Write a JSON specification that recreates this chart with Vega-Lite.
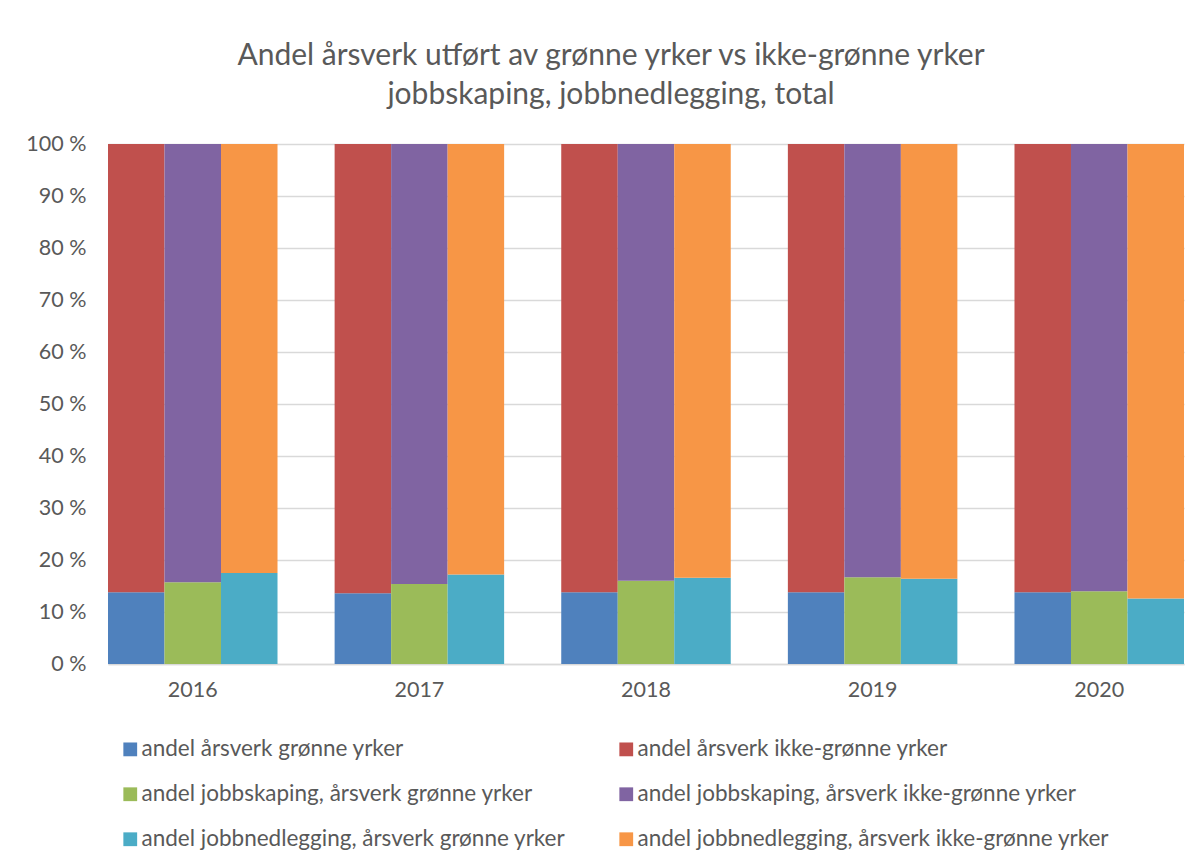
{
  "$schema": "https://vega.github.io/schema/vega-lite/v6.json",
  "width": 1076,
  "height": 520,
  "autosize": "none",
  "padding": {"left": 108, "top": 144, "right": 16, "bottom": 202},
  "background": "white",
  "title": {
    "text": ["Andel årsverk utført av grønne yrker vs  ikke-grønne yrker", "jobbskaping, jobbnedlegging, total"],
    "font": "Lato",
    "fontSize": 30,
    "fontWeight": "normal",
    "color": "#595959",
    "anchor": "middle",
    "frame": "group",
    "dx": -35,
    "lineHeight": 39,
    "offset": 23
  },
  "data": {
    "values": [
      {"year": "2016", "kind": "årsverk", "series": "andel årsverk  grønne yrker", "pos": 0, "value": 13.8},
      {"year": "2016", "kind": "årsverk", "series": "andel årsverk  ikke-grønne yrker", "pos": 1, "value": 86.2},
      {"year": "2016", "kind": "jobbskaping", "series": "andel jobbskaping, årsverk grønne yrker", "pos": 0, "value": 15.7},
      {"year": "2016", "kind": "jobbskaping", "series": "andel jobbskaping, årsverk ikke-grønne yrker", "pos": 1, "value": 84.3},
      {"year": "2016", "kind": "jobbnedlegging", "series": "andel jobbnedlegging, årsverk grønne yrker", "pos": 0, "value": 17.5},
      {"year": "2016", "kind": "jobbnedlegging", "series": "andel jobbnedlegging, årsverk ikke-grønne yrker", "pos": 1, "value": 82.5},
      {"year": "2017", "kind": "årsverk", "series": "andel årsverk  grønne yrker", "pos": 0, "value": 13.6},
      {"year": "2017", "kind": "årsverk", "series": "andel årsverk  ikke-grønne yrker", "pos": 1, "value": 86.4},
      {"year": "2017", "kind": "jobbskaping", "series": "andel jobbskaping, årsverk grønne yrker", "pos": 0, "value": 15.4},
      {"year": "2017", "kind": "jobbskaping", "series": "andel jobbskaping, årsverk ikke-grønne yrker", "pos": 1, "value": 84.6},
      {"year": "2017", "kind": "jobbnedlegging", "series": "andel jobbnedlegging, årsverk grønne yrker", "pos": 0, "value": 17.2},
      {"year": "2017", "kind": "jobbnedlegging", "series": "andel jobbnedlegging, årsverk ikke-grønne yrker", "pos": 1, "value": 82.8},
      {"year": "2018", "kind": "årsverk", "series": "andel årsverk  grønne yrker", "pos": 0, "value": 13.8},
      {"year": "2018", "kind": "årsverk", "series": "andel årsverk  ikke-grønne yrker", "pos": 1, "value": 86.2},
      {"year": "2018", "kind": "jobbskaping", "series": "andel jobbskaping, årsverk grønne yrker", "pos": 0, "value": 16.0},
      {"year": "2018", "kind": "jobbskaping", "series": "andel jobbskaping, årsverk ikke-grønne yrker", "pos": 1, "value": 84.0},
      {"year": "2018", "kind": "jobbnedlegging", "series": "andel jobbnedlegging, årsverk grønne yrker", "pos": 0, "value": 16.6},
      {"year": "2018", "kind": "jobbnedlegging", "series": "andel jobbnedlegging, årsverk ikke-grønne yrker", "pos": 1, "value": 83.4},
      {"year": "2019", "kind": "årsverk", "series": "andel årsverk  grønne yrker", "pos": 0, "value": 13.8},
      {"year": "2019", "kind": "årsverk", "series": "andel årsverk  ikke-grønne yrker", "pos": 1, "value": 86.2},
      {"year": "2019", "kind": "jobbskaping", "series": "andel jobbskaping, årsverk grønne yrker", "pos": 0, "value": 16.7},
      {"year": "2019", "kind": "jobbskaping", "series": "andel jobbskaping, årsverk ikke-grønne yrker", "pos": 1, "value": 83.3},
      {"year": "2019", "kind": "jobbnedlegging", "series": "andel jobbnedlegging, årsverk grønne yrker", "pos": 0, "value": 16.4},
      {"year": "2019", "kind": "jobbnedlegging", "series": "andel jobbnedlegging, årsverk ikke-grønne yrker", "pos": 1, "value": 83.6},
      {"year": "2020", "kind": "årsverk", "series": "andel årsverk  grønne yrker", "pos": 0, "value": 13.8},
      {"year": "2020", "kind": "årsverk", "series": "andel årsverk  ikke-grønne yrker", "pos": 1, "value": 86.2},
      {"year": "2020", "kind": "jobbskaping", "series": "andel jobbskaping, årsverk grønne yrker", "pos": 0, "value": 14.0},
      {"year": "2020", "kind": "jobbskaping", "series": "andel jobbskaping, årsverk ikke-grønne yrker", "pos": 1, "value": 86.0},
      {"year": "2020", "kind": "jobbnedlegging", "series": "andel jobbnedlegging, årsverk grønne yrker", "pos": 0, "value": 12.6},
      {"year": "2020", "kind": "jobbnedlegging", "series": "andel jobbnedlegging, årsverk ikke-grønne yrker", "pos": 1, "value": 87.4}
    ]
  },
  "mark": {"type": "bar"},
  "encoding": {
    "x": {
      "field": "year",
      "type": "nominal",
      "scale": {"paddingInner": 0.252, "paddingOuter": 0},
      "axis": {
        "title": null,
        "labelAngle": 0,
        "labelFont": "Lato",
        "labelFontSize": 21.5,
        "labelColor": "#595959",
        "labelPadding": 15,
        "ticks": false,
        "domainColor": "#d9d9d9",
        "domainWidth": 1.5,
        "grid": false
      }
    },
    "xOffset": {
      "field": "kind",
      "type": "nominal",
      "sort": ["årsverk", "jobbskaping", "jobbnedlegging"],
      "scale": {"paddingInner": 0, "paddingOuter": 0}
    },
    "y": {
      "field": "value",
      "type": "quantitative",
      "stack": "zero",
      "scale": {"domain": [0, 100], "nice": false},
      "axis": {
        "title": null,
        "values": [0, 10, 20, 30, 40, 50, 60, 70, 80, 90, 100],
        "labelExpr": "datum.value + ' %'",
        "labelFont": "Lato",
        "labelFontSize": 21.5,
        "labelColor": "#595959",
        "labelPadding": 22,
        "ticks": false,
        "domain": false,
        "grid": true,
        "gridColor": "#d9d9d9",
        "gridWidth": 1.5
      }
    },
    "order": {"field": "pos", "type": "quantitative", "sort": "ascending"},
    "color": {
      "field": "series",
      "type": "nominal",
      "scale": {
        "domain": [
          "andel årsverk  grønne yrker",
          "andel årsverk  ikke-grønne yrker",
          "andel jobbskaping, årsverk grønne yrker",
          "andel jobbskaping, årsverk ikke-grønne yrker",
          "andel jobbnedlegging, årsverk grønne yrker",
          "andel jobbnedlegging, årsverk ikke-grønne yrker"
        ],
        "range": ["#4F81BD", "#C0504D", "#9BBB59", "#8064A2", "#4BACC6", "#F79646"]
      },
      "legend": {
        "title": null,
        "orient": "none",
        "legendX": 11,
        "legendY": 594,
        "direction": "horizontal",
        "columns": 2,
        "columnPadding": 49,
        "rowPadding": 22,
        "symbolType": "square",
        "symbolSize": 190,
        "symbolStrokeWidth": 0,
        "symbolOffset": 0,
        "labelOffset": 0,
        "labelFont": "Lato",
        "labelFontSize": 22.5,
        "labelColor": "#595959",
        "labelLimit": 0
      }
    }
  },
  "config": {
    "view": {"stroke": null}
  }
}
